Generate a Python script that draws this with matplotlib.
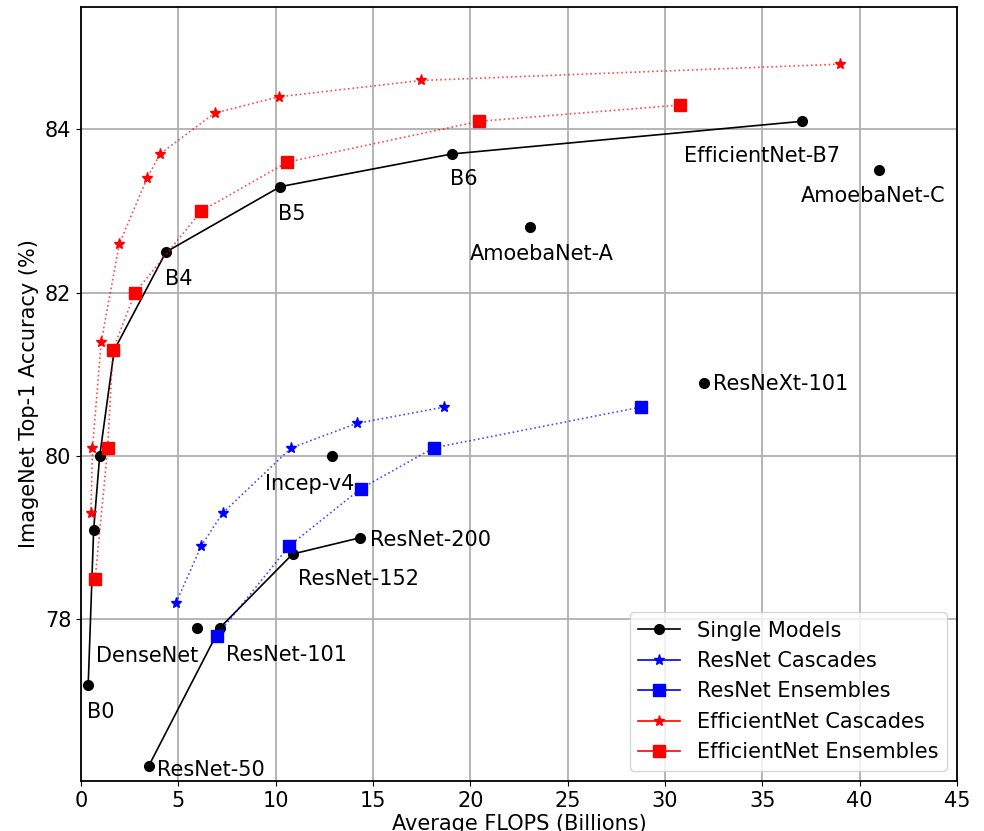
import matplotlib
matplotlib.use("Agg")
import matplotlib.pyplot as plt
from matplotlib.lines import Line2D

# ---- data ----
effnet_flops = [0.37, 0.65, 0.96, 1.71, 4.37, 10.24, 19.05, 37.03]
effnet_acc = [77.2, 79.1, 80.0, 81.3, 82.5, 83.3, 83.7, 84.1]

resnet_flops = [3.47, 7.15, 10.87, 14.35]
resnet_acc = [76.2, 77.9, 78.8, 79.0]

other_names = ["DenseNet", "Incep-v4", "AmoebaNet-A", "AmoebaNet-C", "ResNeXt-101"]
other_flops = [5.94, 12.91, 23.09, 41.0, 32.0]
other_acc = [77.9, 80.0, 82.8, 83.5, 80.9]

resnet_casc_flops = [4.88, 6.18, 7.27, 10.8, 14.17, 18.66]
resnet_casc_acc = [78.2, 78.9, 79.3, 80.1, 80.4, 80.6]

resnet_ens_flops = [6.97, 10.7, 14.37, 18.11, 28.77]
resnet_ens_acc = [77.8, 78.9, 79.6, 80.1, 80.6]

eff_casc_flops = [0.51, 0.59, 1.04, 1.97, 3.39, 4.06, 6.86, 10.17, 17.46, 38.99]
eff_casc_acc = [79.3, 80.1, 81.4, 82.6, 83.4, 83.7, 84.2, 84.4, 84.6, 84.8]

eff_ens_flops = [0.73, 1.37, 1.64, 2.77, 6.18, 10.6, 20.46, 30.78]
eff_ens_acc = [78.5, 80.1, 81.3, 82.0, 83.0, 83.6, 84.1, 84.3]

label_texts = ["B0", "B4", "B5", "B6", "EfficientNet-B7",
               "ResNet-50", "ResNet-101", "ResNet-152", "ResNet-200",
               "DenseNet", "Incep-v4", "AmoebaNet-A", "AmoebaNet-C", "ResNeXt-101"]

# label placement (data coords, left/center anchored)
label_pos = [(0.32, 76.86), (4.33, 82.17), (10.13, 82.97), (18.97, 83.39), (30.98, 83.68),
             (3.92, 76.16), (7.46, 77.56), (11.16, 78.49), (14.86, 78.97),
             (0.79, 77.55), (9.47, 79.66), (19.99, 82.48), (36.99, 83.19), (32.47, 80.88)]

xticks = [0, 5, 10, 15, 20, 25, 30, 35, 40, 45]
yticks = [78, 80, 82, 84]

# ---- plot ----
plt.rcParams['font.family'] = ['DejaVu Sans']
plt.rcParams['font.size'] = 15

fig = plt.figure(figsize=(9.84, 8.31), dpi=100)
ax = fig.add_axes([81 / 984, 1 - 781 / 831, (957 - 81) / 984, (781 - 7) / 831])

ax.grid(True, color='#b0b0b0', linewidth=1.3, zorder=0)
ax.set_axisbelow(True)

ax.plot(effnet_flops, effnet_acc, color='k', marker='o', markersize=7, linewidth=1.2, zorder=3)
ax.plot(resnet_flops, resnet_acc, color='k', marker='o', markersize=7, linewidth=1.2, zorder=3)
ax.plot(other_flops, other_acc, color='k', marker='o', markersize=7, linestyle='none', zorder=3)

blue_line = (0.0, 0.0, 1.0, 0.7)
red_line = (1.0, 0.0, 0.0, 0.7)
ax.plot(resnet_casc_flops, resnet_casc_acc, color=blue_line, marker='*', markersize=8,
        mfc='b', mec='b', linestyle=':', linewidth=1.2, zorder=4)
ax.plot(resnet_ens_flops, resnet_ens_acc, color=blue_line, marker='s', markersize=9,
        mfc='b', mec='b', linestyle=':', linewidth=1.2, zorder=4)
ax.plot(eff_casc_flops, eff_casc_acc, color=red_line, marker='*', markersize=8,
        mfc='r', mec='r', linestyle=':', linewidth=1.2, zorder=4)
ax.plot(eff_ens_flops, eff_ens_acc, color=red_line, marker='s', markersize=9,
        mfc='r', mec='r', linestyle=':', linewidth=1.2, zorder=4)

for t, (lx, ly) in zip(label_texts, label_pos):
    ax.text(lx, ly, t, ha='left', va='center', fontsize=15, zorder=5)

ax.set_xlim(0, 45)
ax.set_ylim(76.02, 85.5)
ax.set_xticks(xticks)
ax.set_yticks(yticks)
ax.set_xlabel("Average FLOPS (Billions)", fontsize=15, labelpad=2)
ax.set_ylabel("ImageNet Top-1 Accuracy (%)", fontsize=15)
for s in ax.spines.values():
    s.set_linewidth(1.3)

handles = [
    Line2D([], [], color='k', marker='o', markersize=7, linewidth=1.2),
    Line2D([], [], color='b', marker='*', markersize=8, linewidth=1.2),
    Line2D([], [], color='b', marker='s', markersize=9, linewidth=1.2),
    Line2D([], [], color='r', marker='*', markersize=8, linewidth=1.2),
    Line2D([], [], color='r', marker='s', markersize=9, linewidth=1.2),
]
labels = ["Single Models", "ResNet Cascades", "ResNet Ensembles",
          "EfficientNet Cascades", "EfficientNet Ensembles"]
ax.legend(handles, labels, loc='lower right', fontsize=15, labelspacing=0.5)

fig.savefig("out.png", dpi=100)
